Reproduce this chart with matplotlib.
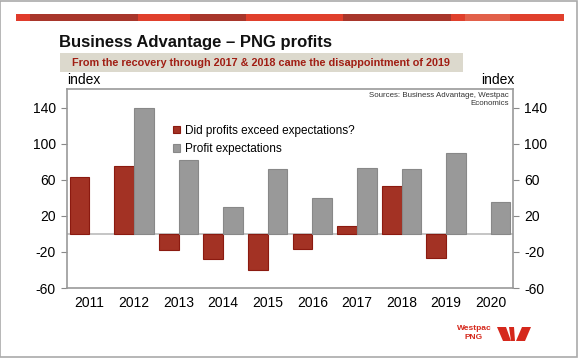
import matplotlib.pyplot as plt
from matplotlib.patches import Rectangle, Polygon
import numpy as np

years = ["2011", "2012", "2013", "2014", "2015", "2016", "2017", "2018", "2019", "2020"]
exceeded = [63, 75, -18, -28, -40, -17, 9, 53, -27, np.nan]
expectations = [np.nan, 140, 82, 30, 72, 40, 73, 72, 90, 36]

plt.rcParams["font.family"] = ["Liberation Sans", "DejaVu Sans"]
plt.rcParams["axes.unicode_minus"] = False

W, H = 580, 359
fig = plt.figure(figsize=(W / 100, H / 100), dpi=100)


def fx(x):
    return x / W


def fy(y):
    return 1 - y / H


# frame and red banner
fig.patches.append(Rectangle((0, fy(357)), fx(577), fy(1) - fy(357), transform=fig.transFigure,
                             fill=False, edgecolor="#aaaaaa", lw=1.2))
stripe = [(16, 30, "#e03b2b"), (30, 138, "#a8362b"), (138, 190, "#e0402c"), (190, 246, "#a8362b"),
          (246, 343, "#e0402c"), (343, 451, "#a8362b"), (451, 465, "#e0402c"), (465, 510, "#e2604a"),
          (510, 564, "#e0402c")]
for x0, x1, c in stripe:
    fig.patches.append(Rectangle((fx(x0), fy(21)), fx(x1 - x0), fy(14) - fy(21),
                                 transform=fig.transFigure, color=c, lw=0))

fig.text(fx(59), fy(43), "Business Advantage \u2013 PNG profits", fontsize=12, fontweight="bold",
         va="center", ha="left", color="#111111")
fig.patches.append(Rectangle((fx(60), fy(72)), fx(403), fy(53) - fy(72), transform=fig.transFigure,
                             color="#dcd9cd", lw=0))
fig.text(fx(261), fy(62.5), "From the recovery through 2017 & 2018 came the disappointment of 2019",
         fontsize=7.8, fontweight="bold", color="#a01e14", ha="center", va="center")

ax = fig.add_axes([fx(67), fy(288), fx(446), fy(89) - fy(288)])
x = np.arange(len(years))
w = 0.44
ax.bar(x - w / 2, exceeded, w, color="#a33224", edgecolor="#8b1a10", lw=0.8,
       label="Did profits exceed expectations?", zorder=2)
ax.bar(x + w / 2, expectations, w, color="#999999", edgecolor="#888888", lw=0.8,
       label="Profit expectations", zorder=2)
ax.axhline(0, color="#bbbbbb", lw=1.2, zorder=1)

ax.set_xlim(-0.5, len(years) - 0.5)
ax.set_ylim(-60, 161)
ax.set_yticks([-60, -20, 20, 60, 100, 140])
ax.set_xticks(x)
ax.set_xticklabels(years)
ax.tick_params(axis="x", length=0, labelsize=10, pad=6)
ax.tick_params(axis="y", length=4, color="#888888", labelsize=10, labelright=True, right=True, pad=4)
for s in ax.spines.values():
    s.set_color("#999999")
    s.set_linewidth(1.2)

fig.text(fx(67), fy(80), "index", fontsize=10, ha="left", va="center")
fig.text(fx(515), fy(80), "index", fontsize=10, ha="right", va="center")
ax.text(0.99, 0.985, "Sources: Business Advantage, Westpac\nEconomics", transform=ax.transAxes,
        fontsize=5.7, ha="right", va="top", color="#333333", linespacing=1.25)

leg = ax.legend(loc="upper left", bbox_to_anchor=((168 - 67) / 446, (288 - 120) / 199), frameon=False,
                fontsize=8.5, handlelength=0.6, handleheight=0.6, handletextpad=0.4,
                labelspacing=0.55, borderaxespad=0)

# Westpac logo
fig.text(fx(474), fy(328), "Westpac", fontsize=6, fontweight="bold", color="#d5281c", ha="center", va="center")
fig.text(fx(474), fy(337.5), "PNG", fontsize=6, fontweight="bold", color="#d5281c", ha="center", va="center")
logo = [[(497, 327), (506, 327), (511, 341), (503, 341)],
        [(509, 327), (514, 327), (515, 341), (511, 341)],
        [(522, 327), (531, 327), (525, 341), (516, 341)]]
for pts in logo:
    fig.patches.append(Polygon([(fx(a), fy(b)) for a, b in pts], closed=True,
                               transform=fig.transFigure, color="#d5281c", lw=0))

fig.savefig("out.png", dpi=100)
